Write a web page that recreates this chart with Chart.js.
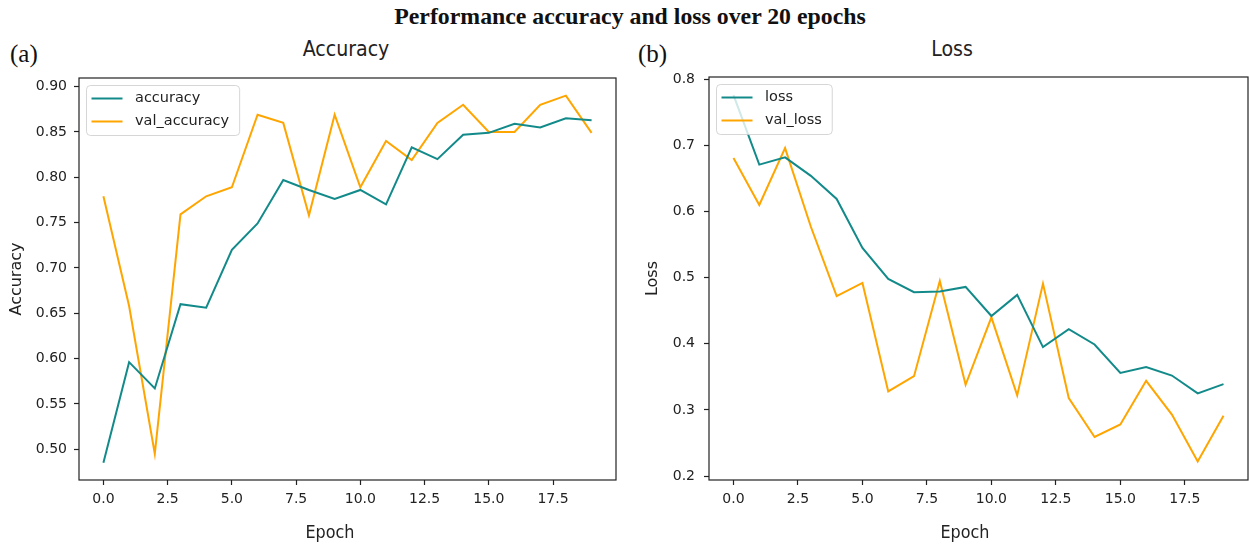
<!DOCTYPE html>
<html>
<head>
<meta charset="utf-8">
<script src="https://cdn.jsdelivr.net/npm/chart.js@4.4.1/dist/chart.umd.min.js"></script>
<style>
  html, body { margin: 0; padding: 0; background: #fff; }
  #page { position: relative; width: 1249px; height: 547px; overflow: hidden; }
  .panel { position: absolute; top: 0; height: 547px; }
  .txt { position: absolute; white-space: nowrap; line-height: 1; }
  .serif { font-family: "Liberation Serif", "Times New Roman", serif; color: #111; }
  .sans { font-family: "DejaVu Sans", sans-serif; color: #222; }
  .mid { transform: translateX(-50%); }
  .tall { transform: translateX(-50%) scaleY(1.12); }
</style>
</head>
<body>
<div id="page">
  <div class="txt serif mid" style="left:630px; top:5px; font-size:23.8px; font-weight:bold;">Performance accuracy and loss over 20 epochs</div>
  <div class="txt serif" style="left:10px; top:41px; font-size:25px;">(a)</div>
  <div class="txt serif" style="left:638px; top:41px; font-size:25px;">(b)</div>
  <div class="txt sans tall" style="left:346px; top:39px; font-size:19px;">Accuracy</div>
  <div class="txt sans tall" style="left:952px; top:39px; font-size:19px;">Loss</div>

  <div class="panel" style="left:0; width:630px;"><canvas id="accChart"></canvas></div>
  <div class="panel" style="left:630px; width:619px;"><canvas id="lossChart"></canvas></div>

  <div class="txt sans tall" style="left:330px; top:524px; font-size:16px;">Epoch</div>
  <div class="txt sans tall" style="left:965px; top:524px; font-size:16px;">Epoch</div>
</div>

<script>
const epochs = [0, 1, 2, 3, 4, 5, 6, 7, 8, 9, 10, 11, 12, 13, 14, 15, 16, 17, 18, 19];

const accuracy = [0.485, 0.596, 0.567, 0.660, 0.656, 0.720, 0.749, 0.797, 0.786, 0.776,
  0.786, 0.770, 0.833, 0.820, 0.847, 0.849, 0.859, 0.855, 0.865, 0.863];
const valAccuracy = [0.779, 0.658, 0.495, 0.759, 0.779, 0.789, 0.869, 0.860, 0.758, 0.869,
  0.789, 0.840, 0.819, 0.860, 0.880, 0.850, 0.850, 0.880, 0.890, 0.849];

const loss = [0.776, 0.671, 0.682, 0.654, 0.619, 0.545, 0.498, 0.478, 0.479, 0.486,
  0.442, 0.474, 0.395, 0.422, 0.399, 0.356, 0.365, 0.352, 0.325, 0.339];
const valLoss = [0.681, 0.610, 0.696, 0.577, 0.472, 0.492, 0.328, 0.351, 0.495, 0.338,
  0.440, 0.322, 0.491, 0.318, 0.259, 0.278, 0.344, 0.293, 0.222, 0.291];

const epochTicks = [0, 2.5, 5, 7.5, 10, 12.5, 15, 17.5];
const accuracyTicks = [0.5, 0.55, 0.6, 0.65, 0.7, 0.75, 0.8, 0.85, 0.9];
const lossTicks = [0.2, 0.3, 0.4, 0.5, 0.6, 0.7, 0.8];

const TEAL = "#138a8a";
const ORANGE = "#ffa500";
const INK = "#222";

// frame on all four sides, like matplotlib spines
const framePlugin = {
  id: "frame",
  afterDatasetsDraw(chart) {
    const { ctx, chartArea: a } = chart;
    ctx.save();
    ctx.strokeStyle = INK;
    ctx.lineWidth = 1.2;
    ctx.strokeRect(a.left, a.top, a.right - a.left, a.bottom - a.top);
    ctx.restore();
  },
};

// legend box in the upper-left corner of the plot area
const boxLegendPlugin = {
  id: "boxLegend",
  afterDraw(chart, args, opts) {
    const { ctx, chartArea: a } = chart;
    const sets = chart.data.datasets;
    ctx.save();
    ctx.font = "14.5px 'DejaVu Sans', sans-serif";
    const textW = Math.max(...sets.map((d) => ctx.measureText(d.label).width));
    const x = a.left + opts.dx;
    const y = a.top + opts.dy;
    const w = 5.5 + 31 + 12.5 + textW + 10;
    const h = 50;

    ctx.beginPath();
    ctx.roundRect(x + 0.5, y + 0.5, w, h, 4);
    ctx.fillStyle = "rgba(255,255,255,0.8)";
    ctx.fill();
    ctx.strokeStyle = "rgba(204,204,204,0.8)";
    ctx.lineWidth = 1;
    ctx.stroke();

    sets.forEach((d, i) => {
      const ry = y + 13.5 + i * 23;
      ctx.beginPath();
      ctx.moveTo(x + 5.5, ry);
      ctx.lineTo(x + 36.5, ry);
      ctx.strokeStyle = d.borderColor;
      ctx.lineWidth = 2;
      ctx.stroke();
      ctx.fillStyle = INK;
      ctx.textBaseline = "middle";
      ctx.fillText(d.label, x + 49, ry);
    });
    ctx.restore();
  },
};

function series(label, values, color) {
  return {
    label,
    data: epochs.map((e, i) => ({ x: e, y: values[i] })),
    borderColor: color,
    backgroundColor: color,
    borderWidth: 2,
    pointRadius: 0,
    tension: 0,
    fill: false,
  };
}

function renderPanel(canvasId, cfg) {
  const ctx = document.getElementById(canvasId).getContext("2d");
  return new Chart(ctx, {
    type: "line",
    data: { datasets: cfg.datasets },
    options: {
      responsive: true,
      maintainAspectRatio: false,
      animation: false,
      clip: false,
      layout: { padding: { top: cfg.top, right: cfg.right, bottom: 0, left: 0 } },
      plugins: {
        legend: { display: false },
        tooltip: { enabled: false },
        boxLegend: { dx: 7, dy: 7 },
      },
      scales: {
        x: {
          type: "linear",
          min: -0.95,
          max: 19.95,
          afterBuildTicks: (scale) => {
            scale.ticks = epochTicks.map((v) => ({ value: v }));
          },
          afterFit: (scale) => {
            scale.height = 547 - cfg.bottom;
          },
          ticks: {
            callback: (v) => v.toFixed(1),
            color: INK,
            font: { family: "DejaVu Sans", size: 14 },
            padding: 6,
            maxRotation: 0,
            autoSkip: false,
          },
          grid: { drawOnChartArea: false, drawTicks: true, tickLength: 5, tickColor: INK, tickWidth: 1.2 },
          border: { display: false },
        },
        y: {
          type: "linear",
          min: cfg.yMin,
          max: cfg.yMax,
          afterBuildTicks: (scale) => {
            scale.ticks = cfg.yTicks.map((v) => ({ value: v }));
          },
          afterFit: (scale) => {
            scale.width = cfg.left;
          },
          ticks: {
            callback: (v) => v.toFixed(cfg.digits),
            color: INK,
            font: { family: "DejaVu Sans", size: 14 },
            padding: cfg.tickPad,
            autoSkip: false,
          },
          grid: { drawOnChartArea: false, drawTicks: true, tickLength: 5, tickColor: INK, tickWidth: 1.2 },
          border: { display: false },
          title: {
            display: true,
            text: cfg.yTitle,
            color: INK,
            font: { family: "DejaVu Sans", size: 16 },
            padding: { top: cfg.titlePad, bottom: 0 },
          },
        },
      },
    },
    plugins: [framePlugin, boxLegendPlugin],
  });
}

renderPanel("accChart", {
  datasets: [
    series("accuracy", accuracy, TEAL),
    series("val_accuracy", valAccuracy, ORANGE),
  ],
  yMin: 0.466,
  yMax: 0.9095,
  yTicks: accuracyTicks,
  digits: 2,
  yTitle: "Accuracy",
  top: 78,
  bottom: 480,
  left: 79,
  right: 14,
  tickPad: 7,
  titlePad: 7,
});

renderPanel("lossChart", {
  datasets: [
    series("loss", loss, TEAL),
    series("val_loss", valLoss, ORANGE),
  ],
  yMin: 0.194,
  yMax: 0.8035,
  yTicks: lossTicks,
  digits: 1,
  yTitle: "Loss",
  top: 77,
  bottom: 480,
  left: 79,
  right: 1,
  tickPad: 9,
  titlePad: 13,
});
</script>
</body>
</html>
